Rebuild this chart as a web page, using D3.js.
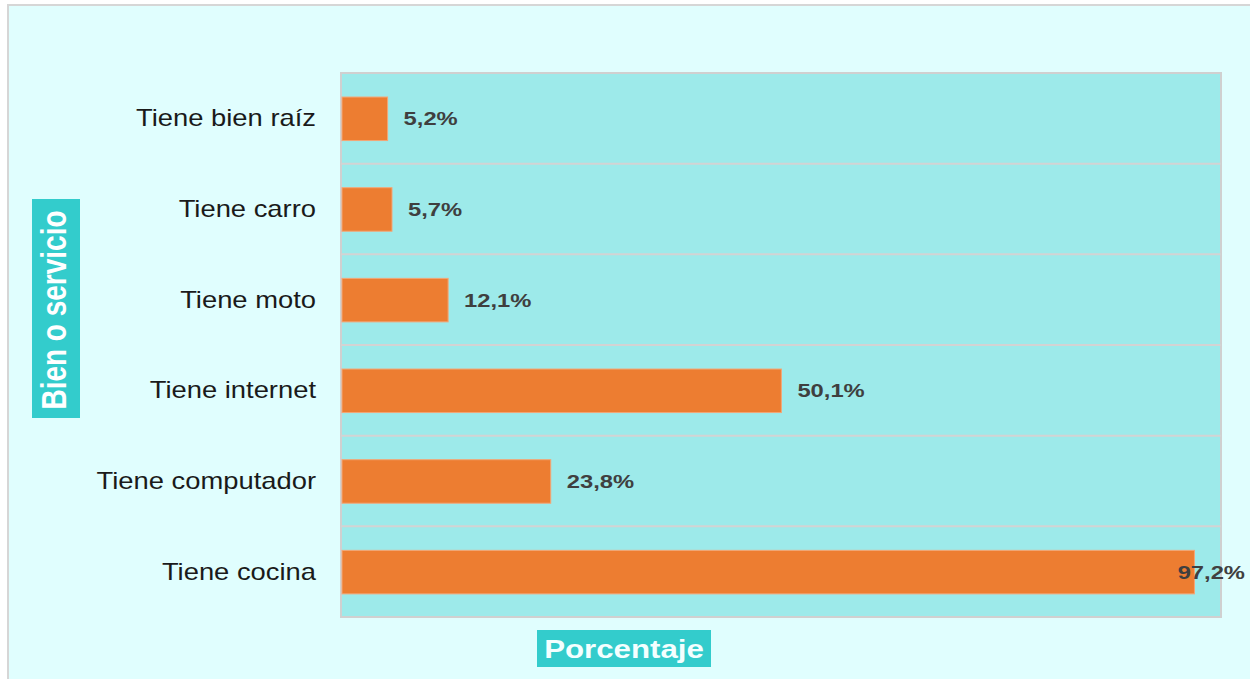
<!DOCTYPE html>
<html>
<head>
<meta charset="utf-8">
<script src="https://cdn.jsdelivr.net/npm/d3@7"></script>
<style>
  body { margin: 0; background: #ffffff; }
  svg { display: block; }
</style>
</head>
<body>
<div id="chart"></div>
<script>
// Data
const categories = ['Tiene bien raíz', 'Tiene carro', 'Tiene moto', 'Tiene internet', 'Tiene computador', 'Tiene cocina'];
const values = [5.2, 5.7, 12.1, 50.1, 23.8, 97.2];
const xTitle = 'Porcentaje';
const yTitle = 'Bien o servicio';

const width = 1250, height = 679;
const plot = { left: 341, right: 1221, top: 73, bottom: 617 };
// the original picture looks stretched sideways, so texts get a horizontal scale
const stretch = 1.19;

const svg = d3.select('#chart').append('svg')
    .attr('width', width)
    .attr('height', height);

// outer frame
svg.append('rect')
    .attr('x', 8).attr('y', 5)
    .attr('width', width + 10).attr('height', height + 10)
    .attr('fill', '#e0fefe')
    .attr('stroke', '#d6d6d6')
    .attr('stroke-width', 2);

// scales
const y = d3.scaleBand()
    .domain(categories)
    .range([plot.top, plot.bottom])
    .padding(0);

const x = d3.scaleLinear()
    .domain([0, 100])
    .range([plot.left + 1, plot.right - 2]);

// plot area
svg.append('rect')
    .attr('x', plot.left).attr('y', plot.top)
    .attr('width', plot.right - plot.left)
    .attr('height', plot.bottom - plot.top)
    .attr('fill', '#9deaea')
    .attr('stroke', '#d0d0d0')
    .attr('stroke-width', 2);

// horizontal grid lines between the rows
svg.selectAll('.grid')
    .data(categories.slice(1))
    .enter()
    .append('line')
    .attr('class', 'grid')
    .attr('x1', plot.left).attr('x2', plot.right)
    .attr('y1', d => y(d)).attr('y2', d => y(d))
    .attr('stroke', '#d3d3d3')
    .attr('stroke-width', 2);

// bars
const barInset = y.bandwidth() * 0.265;
const barHeight = y.bandwidth() * 0.48;

svg.selectAll('.bar')
    .data(categories)
    .enter()
    .append('rect')
    .attr('class', 'bar')
    .attr('x', x(0))
    .attr('y', d => y(d) + barInset)
    .attr('width', (d, i) => x(values[i]) - x(0))
    .attr('height', barHeight)
    .attr('fill', '#ed7d31')
    .attr('stroke', '#f4a676')
    .attr('stroke-width', 1);

// category labels
svg.selectAll('.cat')
    .data(categories)
    .enter()
    .append('g')
    .attr('class', 'cat')
    .attr('transform', d => `translate(316, ${y(d) + y.bandwidth() / 2 + 8}) scale(${stretch}, 1)`)
    .append('text')
    .attr('text-anchor', 'end')
    .attr('font-family', 'Liberation Sans, Arial, sans-serif')
    .attr('font-size', 23)
    .attr('fill', '#1a1a1a')
    .text(d => d);

// value labels
const valueLabels = svg.selectAll('.val')
    .data(categories)
    .enter()
    .append('g')
    .attr('class', 'val');

valueLabels.append('text')
    .attr('font-family', 'Liberation Sans, Arial, sans-serif')
    .attr('font-size', 19)
    .attr('font-weight', 'bold')
    .attr('fill', '#3f3f3f')
    .text((d, i) => d3.format('.1f')(values[i]).replace('.', ',') + '%');

valueLabels.attr('transform', function (d, i) {
    const w = this.querySelector('text').getComputedTextLength() * 1.25;
    const tx = Math.min(x(values[i]) + 16, 1245 - w);
    return `translate(${tx}, ${y(d) + y.bandwidth() / 2 + 7}) scale(1.25, 1)`;
});

// y title box
svg.append('rect')
    .attr('x', 32).attr('y', 199)
    .attr('width', 48).attr('height', 219)
    .attr('fill', '#33cccc');

svg.append('g')
    .attr('transform', `translate(66, 310) scale(1.22, 1) rotate(-90)`)
    .append('text')
    .attr('text-anchor', 'middle')
    .attr('font-family', 'Liberation Sans, Arial, sans-serif')
    .attr('font-size', 28)
    .attr('font-weight', 'bold')
    .attr('fill', '#ffffff')
    .text(yTitle);

// x title box
svg.append('rect')
    .attr('x', 537).attr('y', 630)
    .attr('width', 174).attr('height', 37)
    .attr('fill', '#33cccc');

svg.append('g')
    .attr('transform', `translate(624, 658) scale(1.25, 1)`)
    .append('text')
    .attr('text-anchor', 'middle')
    .attr('font-family', 'Liberation Sans, Arial, sans-serif')
    .attr('font-size', 25)
    .attr('font-weight', 'bold')
    .attr('fill', '#f4ffff')
    .text(xTitle);
</script>
</body>
</html>
